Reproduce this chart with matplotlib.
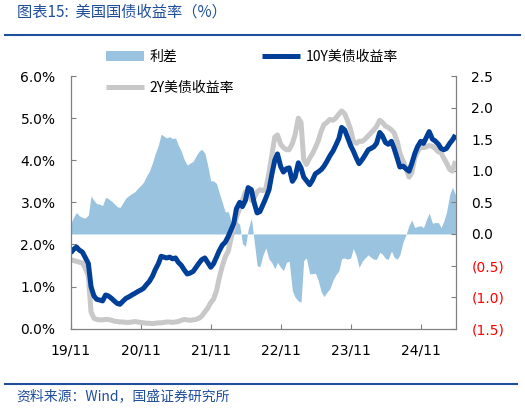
import numpy as np
import pandas as pd
import matplotlib
matplotlib.use('Agg')
import matplotlib.pyplot as plt
import matplotlib.dates as mdates
from matplotlib.ticker import FuncFormatter

plt.rcParams['font.family'] = ['DejaVu Sans']
CJK = ['Noto Sans CJK SC', 'DejaVu Sans']

# 半月频数据
dates = pd.date_range('2019-11-01', periods=133, freq='SMS')

y10 = [
    1.80, 1.88, 1.94, 1.87, 1.82, 1.70, 1.55, 1.00, 0.78, 0.70,
    0.68, 0.66, 0.80, 0.78, 0.72, 0.66, 0.60, 0.58, 0.66, 0.72,
    0.76, 0.80, 0.84, 0.88, 0.92, 0.96, 1.05, 1.12, 1.25, 1.40,
    1.55, 1.72, 1.70, 1.68, 1.70, 1.66, 1.68, 1.58, 1.50, 1.40,
    1.30, 1.32, 1.36, 1.45, 1.56, 1.64, 1.68, 1.58, 1.46, 1.54,
    1.70, 1.85, 1.99, 2.05, 2.20, 2.35, 2.50, 2.85, 3.00, 2.90,
    3.05, 3.35, 3.30, 3.00, 2.75, 2.78, 2.95, 3.10, 3.30, 3.65,
    4.00, 4.15, 3.85, 3.72, 3.80, 3.82, 3.50, 3.60, 3.94, 3.82,
    3.60, 3.52, 3.42, 3.52, 3.68, 3.72, 3.78, 3.86, 3.98, 4.10,
    4.22, 4.35, 4.52, 4.78, 4.72, 4.55, 4.35, 4.22, 4.05, 3.92,
    4.02, 4.12, 4.25, 4.28, 4.32, 4.40, 4.66, 4.58, 4.42, 4.38,
    4.45, 4.28, 4.05, 3.84, 3.86, 3.80, 3.74, 3.92, 4.16, 4.32,
    4.45, 4.40, 4.55, 4.68, 4.50, 4.46, 4.38, 4.28, 4.25, 4.28,
    4.40, 4.48, 4.60,
]

y2 = [
    1.64, 1.62, 1.60, 1.58, 1.56, 1.45, 1.25, 0.40, 0.25, 0.22,
    0.21, 0.21, 0.22, 0.22, 0.20, 0.18, 0.17, 0.16, 0.16, 0.15,
    0.15, 0.16, 0.17, 0.16, 0.15, 0.14, 0.13, 0.13, 0.12, 0.13,
    0.14, 0.14, 0.15, 0.16, 0.16, 0.15, 0.16, 0.17, 0.20, 0.22,
    0.21, 0.20, 0.21, 0.22, 0.25, 0.30, 0.40, 0.48, 0.62, 0.70,
    0.90, 1.20, 1.50, 1.70, 1.85, 2.15, 2.40, 2.65, 2.85, 3.05,
    3.25, 3.28, 3.05, 3.10, 3.25, 3.30, 3.28, 3.32, 3.70, 4.10,
    4.55, 4.60, 4.38, 4.30, 4.25, 4.25, 4.40, 4.60, 5.00, 4.90,
    4.02, 3.90, 4.05, 4.15, 4.30, 4.45, 4.70, 4.85, 4.90, 4.97,
    4.95, 5.00, 5.10, 5.17, 5.10, 4.95, 4.73, 4.45, 4.40, 4.45,
    4.45, 4.50, 4.58, 4.65, 4.72, 4.80, 4.95, 4.90, 4.81, 4.78,
    4.72, 4.65, 4.45, 4.17, 3.98, 3.82, 3.60, 3.70, 4.06, 4.20,
    4.32, 4.30, 4.32, 4.35, 4.33, 4.28, 4.20, 4.18, 4.05, 3.94,
    3.78, 3.74, 3.98,
]

# 利差 = 10Y - 2Y
spread = np.array(y10) - np.array(y2)

left_ticks = [0, 1, 2, 3, 4, 5, 6]
right_ticks = [-1.5, -1.0, -0.5, 0.0, 0.5, 1.0, 1.5, 2.0, 2.5]
x_ticks = pd.date_range('2019-11-01', '2024-11-01', freq='12MS')

c_blue = '#003F98'
c_gray = '#C8C8C8'
c_fill = '#9AC3DF'
c_text = '#1F4E9B'
c_spine = '#808080'

fig = plt.figure(figsize=(5.25, 4.09), dpi=100)
ax = fig.add_axes([0.1347, 0.1963, 0.7339, 0.6178])
ax2 = ax.twinx()

# 利差面积（右轴）
fill = ax2.fill_between(dates, 0, spread, color=c_fill, lw=0, label='利差')
ax2.set_ylim(-1.5, 2.5)

# 收益率（左轴），放在面积图之上
ax.set_zorder(ax2.get_zorder() + 1)
ax.patch.set_visible(False)
l2, = ax.plot(dates, y2, color=c_gray, lw=3.6, label='2Y美债收益率', solid_capstyle='butt')
l10, = ax.plot(dates, y10, color=c_blue, lw=3.6, label='10Y美债收益率', solid_capstyle='butt')

ax.set_ylim(0, 6)
ax.set_xlim(dates[0], pd.Timestamp('2025-05-04'))
ax.set_yticks(left_ticks)
ax.yaxis.set_major_formatter(FuncFormatter(lambda v, p: f'{v:.1f}%'))
ax.set_xticks(x_ticks)
ax.xaxis.set_major_formatter(mdates.DateFormatter('%y/%m'))

ax2.set_yticks(right_ticks)
ax2.yaxis.set_major_formatter(FuncFormatter(lambda v, p: f'({abs(v):.1f})' if v < 0 else f'{v:.1f}'))
for lab, v in zip(ax2.get_yticklabels(), right_ticks):
    lab.set_color('red' if v < 0 else 'black')

for a in (ax, ax2):
    a.tick_params(direction='in', length=3.5, width=0.8, color=c_spine,
                  labelsize=10, pad=11)
    for side in ('left', 'right', 'bottom'):
        a.spines[side].set_color(c_spine)
        a.spines[side].set_linewidth(0.9)
    a.spines['top'].set_visible(False)
ax.spines['right'].set_visible(False)
ax2.spines['left'].set_visible(False)
ax2.spines['bottom'].set_visible(False)

# 图例
fig.legend([fill, l2, l10], ['利差', '2Y美债收益率', '10Y美债收益率'],
           ncol=2, loc='upper left', bbox_to_anchor=(0.201, 0.878),
           frameon=False, prop={'family': CJK, 'size': 10},
           handlelength=2.75, handletextpad=0.4, columnspacing=2.0,
           labelspacing=1.25, borderpad=0, borderaxespad=0)

# 标题与来源
fig.text(0.032, 0.970, '图表15:  美国国债收益率（%）', family=CJK, style='italic',
         fontsize=11, color=c_text, va='center', ha='left')
fig.add_artist(plt.Line2D([0.01, 0.99], [0.9144, 0.9144], color=c_text, lw=1.5))
fig.add_artist(plt.Line2D([0.01, 0.985], [0.0604, 0.0604], color=c_text, lw=1.5))
fig.text(0.032, 0.030, '资料来源：Wind，国盛证券研究所', family=CJK, style='italic',
         fontsize=10, color=c_text, va='center', ha='left')

fig.savefig('out.png', dpi=100)
